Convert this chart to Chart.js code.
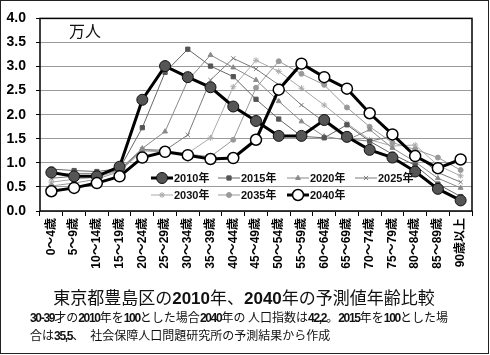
<!DOCTYPE html>
<html>
<head>
<meta charset="utf-8">
<script src="https://cdn.jsdelivr.net/npm/chart.js@4.4.1/dist/chart.umd.min.js"></script>
<style>
  html, body { margin: 0; padding: 0; background: #fff; }
  #wrap { position: relative; width: 490px; height: 355px; overflow: hidden; }
  #frame { position: absolute; left: 0; top: 0; width: 489px; height: 354px; box-sizing: border-box; border: 1px solid #222; pointer-events: none; }
  #c { position: absolute; left: 0; top: 0; }
  #unit { position: absolute; left: 69px; top: 20px; font: 16px 'Noto Sans CJK JP', sans-serif; color: #111; line-height: 20px; }
  #title { position: absolute; left: 0; top: 286px; width: 488px; text-align: center; font: 17px 'Noto Sans CJK JP', sans-serif; color: #111; line-height: 21px; white-space: nowrap; }
  #title b { font-family: 'Liberation Sans', Arial, sans-serif; font-weight: bold; }
  #note { position: absolute; left: 30px; top: 309px; font: 12px 'Noto Sans CJK JP', sans-serif; color: #111; line-height: 15.5px; white-space: nowrap; }
  #note b { font-family: 'Liberation Sans', Arial, sans-serif; font-weight: bold; letter-spacing: -1.3px; }
</style>
</head>
<body>
<div id="wrap">
  <canvas id="c" width="490" height="285"></canvas>
  <div id="unit">万人</div>
  <div id="title">東京都豊島区の<b>2010</b>年、<b>2040</b>年の予測値年齢比較</div>
  <div id="note"><b>30-39</b>才の<b>2010</b>年を<b>100</b>とした場合<b>2040</b>年の 人口指数は<b>42,2</b>。<b>2015</b>年を<b>100</b>とした場<br>合は<b>35,5</b>、　社会保障人口問題研究所の予測結果から作成</div>
  <div id="frame"></div>
</div>
<script>
// ---- data ----
const ageLabels = ['0～4歳','5～9歳','10～14歳','15～19歳','20～24歳','25～29歳','30～34歳','35～39歳','40～44歳','45～49歳','50～54歳','55～59歳','60～64歳','65～69歳','70～74歳','75～79歳','80～84歳','85～89歳','90歳以上'];
const seriesNames = ['2010年','2015年','2020年','2025年','2030年','2035年','2040年'];
const y2010 = [0.80,0.72,0.72,0.92,2.31,3.01,2.78,2.57,2.17,1.87,1.56,1.56,1.89,1.54,1.27,1.11,0.82,0.46,0.22];
const y2015 = [0.87,0.84,0.82,0.88,1.73,2.88,3.36,3.01,2.79,2.32,1.91,1.55,1.52,1.79,1.45,1.18,0.95,0.56,0.30];
const y2020 = [0.75,0.78,0.78,0.86,1.30,1.65,2.71,3.24,2.98,2.72,2.28,1.86,1.55,1.47,1.69,1.31,1.02,0.68,0.48];
const y2025 = [0.68,0.72,0.74,0.85,1.28,1.26,1.58,2.72,3.17,2.95,2.62,2.20,1.85,1.50,1.45,1.55,1.18,0.80,0.60];
const y2030 = [0.60,0.66,0.70,0.84,1.27,1.24,1.20,1.52,2.58,3.13,2.90,2.55,2.20,1.82,1.48,1.35,1.37,0.95,0.73];
const y2035 = [0.52,0.58,0.66,0.82,1.25,1.23,1.18,1.13,1.48,2.56,3.11,2.85,2.62,2.15,1.75,1.42,1.28,1.11,0.85];
const y2040 = [0.41,0.48,0.58,0.72,1.11,1.23,1.16,1.08,1.10,1.48,2.52,3.06,2.78,2.54,2.03,1.59,1.14,0.89,1.07];
const yTicksMin = 0, yTicksMax = 4, yStep = 0.5;

const FONT = "'Liberation Sans', 'Noto Sans CJK JP', sans-serif";

function ds(label, data, o) {
  return Object.assign({
    label, data, fill: false, tension: 0,
    borderColor: '#888', borderWidth: 1,
    pointStyle: 'circle', pointRadius: 2.5,
    pointBackgroundColor: '#888', pointBorderColor: '#888', pointBorderWidth: 1,
    order: 5
  }, o);
}

const datasets = [
  ds(seriesNames[0], y2010, { borderColor: '#000', borderWidth: 3, pointRadius: 5.5, pointBackgroundColor: '#555', pointBorderColor: '#111', pointBorderWidth: 1, order: 1 }),
  ds(seriesNames[1], y2015, { borderColor: '#666', pointStyle: 'rect', pointRadius: 3, pointBackgroundColor: '#555', pointBorderColor: '#555', order: 2 }),
  ds(seriesNames[2], y2020, { borderColor: '#8a8a8a', pointStyle: 'triangle', pointRadius: 2.8, pointBackgroundColor: '#8a8a8a', pointBorderColor: '#8a8a8a', order: 3 }),
  ds(seriesNames[3], y2025, { borderColor: '#7a7a7a', pointStyle: 'crossRot', pointRadius: 3, pointBackgroundColor: '#7a7a7a', pointBorderColor: '#7a7a7a', order: 4 }),
  ds(seriesNames[4], y2030, { borderColor: '#aaa', pointStyle: 'star', pointRadius: 3, pointBackgroundColor: '#aaa', pointBorderColor: '#aaa', order: 6 }),
  ds(seriesNames[5], y2035, { borderColor: '#999', pointStyle: 'circle', pointRadius: 2.5, pointBackgroundColor: '#999', pointBorderColor: '#999', order: 5 }),
  ds(seriesNames[6], y2040, { borderColor: '#000', borderWidth: 3, pointRadius: 5.5, pointBackgroundColor: '#fff', pointBorderColor: '#000', pointBorderWidth: 1.5, order: 0 })
];

const frameBox = {
  id: 'frameBox',
  beforeDatasetsDraw(chart) {
    const a = chart.chartArea, ctx = chart.ctx;
    ctx.save();
    ctx.strokeStyle = '#000';
    ctx.lineWidth = 1.5;
    ctx.strokeRect(a.left, a.top, a.right - a.left, a.bottom - a.top);
    ctx.restore();
  }
};

const inLegend = {
  id: 'inLegend',
  afterDatasetsDraw(chart) {
    const ctx = chart.ctx;
    const cols = [151, 218, 287, 355];
    const rows = [178, 195];
    chart.data.datasets.forEach((d, i) => {
      const x = cols[i % 4], y = rows[Math.floor(i / 4)];
      ctx.save();
      ctx.strokeStyle = d.borderColor;
      ctx.lineWidth = d.borderWidth;
      ctx.beginPath(); ctx.moveTo(x, y); ctx.lineTo(x + 22, y); ctx.stroke();
      ctx.fillStyle = d.pointBackgroundColor;
      ctx.strokeStyle = d.pointBorderColor;
      ctx.lineWidth = d.pointBorderWidth;
      Chart.helpers.drawPoint(ctx, { pointStyle: d.pointStyle, radius: d.pointRadius, rotation: 0, borderWidth: d.pointBorderWidth }, x + 11, y);
      ctx.fillStyle = '#111';
      ctx.font = 'bold 11px ' + FONT;
      ctx.textBaseline = 'middle';
      ctx.textAlign = 'left';
      ctx.fillText(d.label, x + 23, y + 0.5);
      ctx.restore();
    });
  }
};

new Chart(document.getElementById('c'), {
  type: 'line',
  data: { labels: ageLabels, datasets },
  options: {
    responsive: false,
    animation: false,
    devicePixelRatio: 1,
    layout: { padding: { top: 15, right: 18, left: 0, bottom: 0 } },
    plugins: { legend: { display: false }, tooltip: { enabled: false }, title: { display: false } },
    scales: {
      x: {
        offset: true,
        grid: { display: true, offset: true, drawOnChartArea: false, drawTicks: true, tickLength: 5, tickColor: '#000', lineWidth: 1 },
        border: { display: false },
        ticks: { autoSkip: false, minRotation: 90, maxRotation: 90, padding: 2, color: '#000', font: { family: FONT, size: 12, weight: 'bold' } },
        afterFit(s) { s.height = 74; }
      },
      y: {
        min: yTicksMin, max: yTicksMax,
        grid: { color: '#9a9a9a', lineWidth: 1, tickLength: 4, tickColor: '#000' },
        border: { display: false },
        ticks: { stepSize: yStep, padding: 10, color: '#000', font: { family: FONT, size: 14, weight: 'bold' }, callback: v => Number(v).toFixed(1) },
        afterFit(s) { s.width = 40; }
      }
    }
  },
  plugins: [frameBox, inLegend]
});
</script>
</body>
</html>
